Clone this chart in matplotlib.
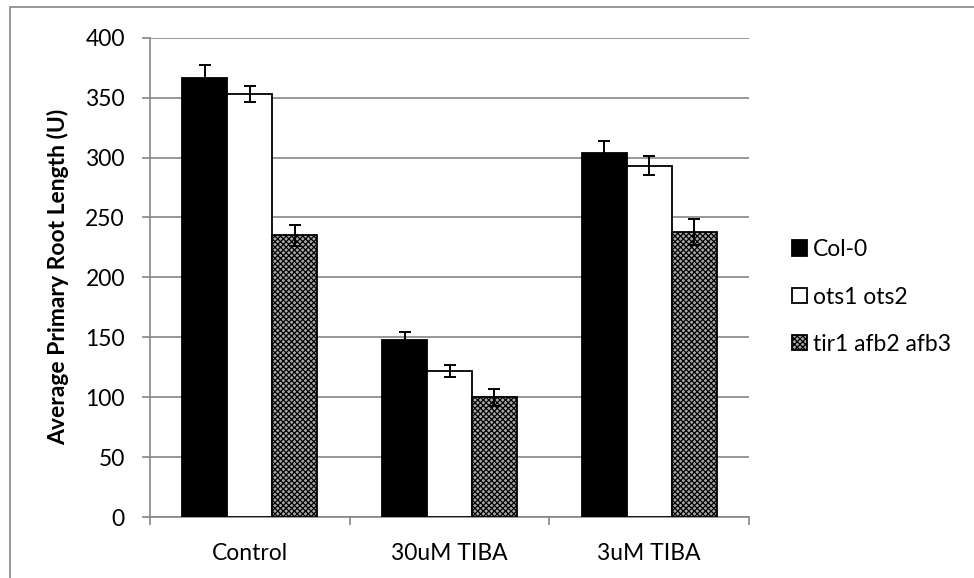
import matplotlib.pyplot as plt
import numpy as np
from matplotlib.patches import Rectangle

plt.rcParams['font.family'] = ['Lato', 'DejaVu Sans']
plt.rcParams['hatch.linewidth'] = 0.9

# mean primary root length per treatment and genotype
treatments = ["Control", "30uM TIBA", "3uM TIBA"]
genotypes = ["Col-0", "ots1 ots2", "tir1 afb2 afb3"]
col0 = [366, 148, 304]
ots = [353, 122, 293]
tir = [235, 100, 238]
col0_err = [11, 6, 10]
ots_err = [7, 5, 8]
tir_err = [9, 7, 11]

grid_col = '#868686'
fs = 16.5

fig = plt.figure(figsize=(9.74, 5.78), dpi=100)
ax = fig.add_axes([150/974, 61/578, 599/974, 479.3/578])

# outer chart border
fig.patches.append(Rectangle((10/974, -0.1), 1.2, (578-7)/578 + 0.1, transform=fig.transFigure,
                             fill=False, edgecolor=grid_col, linewidth=1.2))

x = np.arange(len(treatments))
w = 0.225
styles = [dict(color='black', edgecolor='black'),
          dict(color='white', edgecolor='black'),
          dict(color='#a8a8a8', edgecolor='black', hatch='xxxxxx')]
series = [(col0, col0_err), (ots, ots_err), (tir, tir_err)]
bars = []
for i, ((vals, errs), st) in enumerate(zip(series, styles)):
    b = ax.bar(x + (i - 1) * w, vals, w, linewidth=1.3, zorder=3, **st)
    ax.errorbar(x + (i - 1) * w, vals, yerr=errs, fmt='none', ecolor='black',
                elinewidth=1.4, capsize=4.5, capthick=1.4, zorder=4)
    bars.append(b)

ax.set_xlim(-0.5, 2.5)
ax.set_ylim(0, 400)
ax.set_yticks(np.arange(0, 401, 50))
ax.yaxis.grid(True, color=grid_col, linewidth=1.2, zorder=0)
ax.set_axisbelow(True)

ax.set_xticks(x)
ax.set_xticklabels(treatments)
ax.set_xticks(np.arange(-0.5, 2.6, 1), minor=True)
ax.tick_params(axis='x', which='major', length=0, pad=19, labelsize=fs)
ax.tick_params(axis='x', which='minor', length=6, width=1.2, color=grid_col)
ax.tick_params(axis='y', length=6, width=1.2, color=grid_col, pad=12, labelsize=fs)

for s in ['top', 'right']:
    ax.spines[s].set_visible(False)
for s in ['left', 'bottom']:
    ax.spines[s].set_color(grid_col)
    ax.spines[s].set_linewidth(1.2)

ax.set_ylabel("Average Primary Root Length (U)", fontsize=fs, fontweight='bold', labelpad=12)

ax.legend(bars, genotypes, loc='center left', bbox_to_anchor=(792/974, 1 - 297/578),
          bbox_transform=fig.transFigure, frameon=False, fontsize=fs,
          handlelength=0.65, handleheight=0.65, handletextpad=0.28, labelspacing=1.15,
          borderaxespad=0, borderpad=0)

fig.savefig("out.png", dpi=100)
